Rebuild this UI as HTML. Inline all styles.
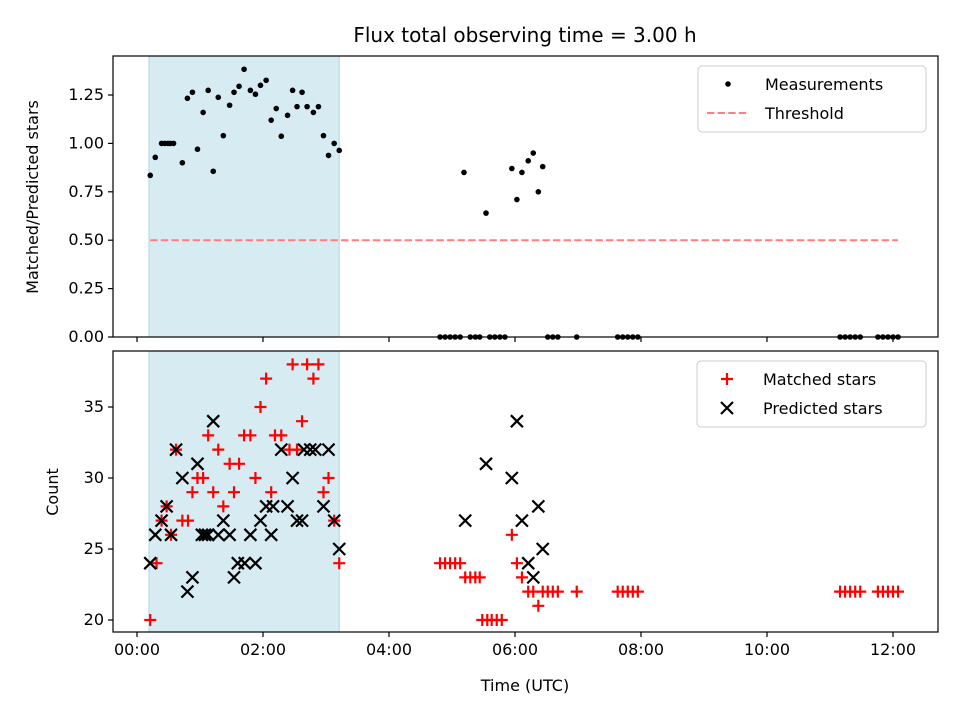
<!DOCTYPE html>
<html><head><meta charset="utf-8"><style>
body{margin:0;background:#fff}
svg{display:block;font-family:"DejaVu Sans","Liberation Sans",sans-serif}
</style></head><body>
<svg id="chart" width="960" height="720" viewBox="0 0 960 720">
<text x="525" y="42" font-size="20" text-anchor="middle">Flux total observing time = 3.00 h</text>
<g id="topPanel"></g>
<g id="botPanel"></g>
</svg>
<script>
// Top panel: ratio measurements
const ratioTimes = [0.21,0.29,0.39,0.44,0.49,0.53,0.58,0.72,0.80,0.88,0.96,1.05,1.13,1.21,1.29,1.37,1.47,1.54,1.62,1.70,1.80,1.88,1.96,2.05,2.13,2.21,2.29,2.39,2.47,2.54,2.62,2.70,2.80,2.88,2.96,3.04,3.13,3.21,
 5.19,5.54,5.95,6.03,6.11,6.21,6.29,6.37,6.44,
 4.81,4.89,4.97,5.05,5.13,5.29,5.37,5.44,5.60,5.68,5.76,5.84,6.52,6.60,6.68,6.98,7.63,7.71,7.79,7.87,7.95,11.16,11.24,11.32,11.40,11.48,11.76,11.84,11.92,12.0,12.08];
const ratioValues = [0.835,0.928,1.0,1.0,1.0,1.0,1.0,0.90,1.233,1.264,0.97,1.16,1.274,0.856,1.238,1.04,1.197,1.264,1.295,1.383,1.274,1.254,1.30,1.326,1.12,1.18,1.037,1.145,1.274,1.19,1.264,1.19,1.16,1.19,1.04,0.938,1.0,0.964,
 0.85,0.64,0.87,0.71,0.85,0.91,0.95,0.75,0.88,
 0,0,0,0,0,0,0,0,0,0,0,0,0,0,0,0,0,0,0,0,0,0,0,0,0,0,0,0,0,0,0];
const threshold = 0.5;
const thresholdRange = [0.21, 12.08];
const shadeRange = [0.19, 3.21];
// Bottom panel
const matchedTimes = [0.21,0.31,0.39,0.47,0.54,0.62,0.72,0.81,0.88,0.96,1.05,1.13,1.21,1.29,1.37,1.47,1.54,1.62,1.70,1.80,1.88,1.96,2.05,2.13,2.19,2.29,2.42,2.47,2.54,2.62,2.70,2.80,2.88,2.96,3.04,3.13,3.21,
 4.81,4.89,4.97,5.05,5.13,5.21,5.29,5.37,5.44,5.48,5.56,5.63,5.71,5.79,5.95,6.03,6.11,6.21,6.29,6.37,6.44,6.52,6.60,6.68,6.98,7.63,7.71,7.79,7.87,7.95,11.16,11.24,11.32,11.40,11.48,11.76,11.84,11.92,12.0,12.08];
const matchedValues = [20,24,27,28,26,32,27,27,29,30,30,33,29,32,28,31,29,31,33,33,30,35,37,29,33,33,32,38,32,34,38,37,38,29,30,27,24,
 24,24,24,24,24,23,23,23,23,20,20,20,20,20,26,24,23,22,22,21,22,22,22,22,22,22,22,22,22,22,22,22,22,22,22,22,22,22,22,22];
const predictedTimes = [0.21,0.29,0.39,0.47,0.54,0.62,0.72,0.80,0.88,0.96,1.03,1.08,1.13,1.21,1.29,1.37,1.47,1.54,1.60,1.71,1.80,1.88,1.96,2.05,2.13,2.16,2.29,2.39,2.47,2.54,2.62,2.65,2.75,2.83,2.96,3.04,3.13,3.21,
 5.21,5.54,5.95,6.03,6.11,6.21,6.29,6.37,6.44];
const predictedValues = [24,26,27,28,26,32,30,22,23,31,26,26,26,34,26,27,26,23,24,24,26,24,27,28,26,28,32,28,30,27,27,32,32,32,28,32,27,25,
 27,31,30,34,27,24,23,28,25];
const xTicks = [0,2,4,6,8,10,12];
const xTickLabels = ["00:00","02:00","04:00","06:00","08:00","10:00","12:00"];
const topTicks = [0,0.25,0.5,0.75,1.0,1.25];
const topTickLabels = ["0.00","0.25","0.50","0.75","1.00","1.25"];
const botTicks = [20,25,30,35];
const botTickLabels = ["20","25","30","35"];

const NS="http://www.w3.org/2000/svg";
function mk(p,t,a){const e=document.createElementNS(NS,t);for(const k in a)e.setAttribute(k,a[k]);p.appendChild(e);return e;}
const L=113,R=938;
const x=h=>137+h*63;
const yT=v=>337-v*193.6;
const yB=v=>620-(v-20)*14.2;
const gTop=document.getElementById('topPanel'), gBot=document.getElementById('botPanel');
const svg=document.getElementById('chart');

function frame(g,y0,y1,name){
  const sh=mk(g,'rect',{x:x(shadeRange[0]),y:y0,width:x(shadeRange[1])-x(shadeRange[0]),height:y1-y0,fill:'#add8e6','fill-opacity':0.5,stroke:'#add8e6'});
  
  
}
frame(gTop,56,337,'top');
frame(gBot,351,632,'bottom');

const th=mk(gTop,'line',{x1:x(thresholdRange[0]),x2:x(thresholdRange[1]),y1:yT(threshold),y2:yT(threshold),stroke:'#ff7f7f','stroke-width':2,'stroke-dasharray':'7.4,3.2'});



ratioTimes.forEach((t,i)=>{
  const c=mk(gTop,'circle',{cx:x(t),cy:yT(ratioValues[i]),r:2.8,fill:'#000'});
  
  
});
function plus(g,cx,cy){return mk(g,'path',{d:`M${cx-6},${cy}H${cx+6}M${cx},${cy-6}V${cy+6}`,stroke:'#f00','stroke-width':2.2});}
function cross(g,cx,cy){return mk(g,'path',{d:`M${cx-6},${cy-6}L${cx+6},${cy+6}M${cx-6},${cy+6}L${cx+6},${cy-6}`,stroke:'#000','stroke-width':2.2});}
matchedTimes.forEach((t,i)=>{
  const p=plus(gBot,x(t),yB(matchedValues[i]));
  
  
});
predictedTimes.forEach((t,i)=>{
  const p=cross(gBot,x(t),yB(predictedValues[i]));
  
  
});

function axes(g,y0,y1,yt,ticks,labels,showX,name){
  const b=mk(g,'rect',{x:L,y:y0,width:R-L,height:y1-y0,fill:'none',stroke:'#000','stroke-width':1.2});
  
  
  ticks.forEach((v,i)=>{
    mk(g,'line',{x1:L-5,x2:L,y1:yt(v),y2:yt(v),stroke:'#000','stroke-width':1.2});
    const t=mk(g,'text',{x:L-9,y:yt(v)+5,'font-size':16,'text-anchor':'end'});
    t.textContent=labels[i];
    
    
  });
  xTicks.forEach((h,i)=>{
    mk(g,'line',{x1:x(h),x2:x(h),y1:y1,y2:y1+5,stroke:'#000','stroke-width':1.2});
    if(showX){
      const t=mk(g,'text',{x:x(h),y:y1+23,'font-size':16,'text-anchor':'middle'});
      t.textContent=xTickLabels[i];
      
      
    }
  });
}
axes(gTop,56,337,yT,topTicks,topTickLabels,false,'top');
axes(gBot,351,632,yB,botTicks,botTickLabels,true,'bottom');

function txt(s,attrs,name){const e=mk(svg,'text',attrs);e.textContent=s;
  
  
  return e;}
txt('Matched/Predicted stars',{x:0,y:0,'font-size':16,'text-anchor':'middle',transform:'translate(38,197) rotate(-90)'},'top-y-axis-title');
txt('Count',{x:0,y:0,'font-size':16,'text-anchor':'middle',transform:'translate(58,492) rotate(-90)'},'bottom-y-axis-title');
txt('Time (UTC)',{x:525,y:691,'font-size':16,'text-anchor':'middle'},'x-axis-title');
function box(x0,y0,w,h,name){const r=mk(svg,'rect',{x:x0,y:y0,width:w,height:h,rx:4,fill:'#fff','fill-opacity':0.8,stroke:'#ccc'});
  
  }
box(698,66,228,66,'top-legend');
mk(svg,'circle',{cx:728,cy:84,r:2.8,fill:'#000'});
txt('Measurements',{x:765,y:90,'font-size':16},'legend-measurements');
mk(svg,'line',{x1:707,x2:749,y1:113,y2:113,stroke:'#ff7f7f','stroke-width':2,'stroke-dasharray':'7.4,3.2'});
txt('Threshold',{x:765,y:119,'font-size':16},'legend-threshold');
box(697,361,229,66,'bottom-legend');
plus(svg,727,379);
txt('Matched stars',{x:763,y:385,'font-size':16},'legend-matched-stars');
cross(svg,727,408);
txt('Predicted stars',{x:763,y:414,'font-size':16},'legend-predicted-stars');
</script>
</body></html>
